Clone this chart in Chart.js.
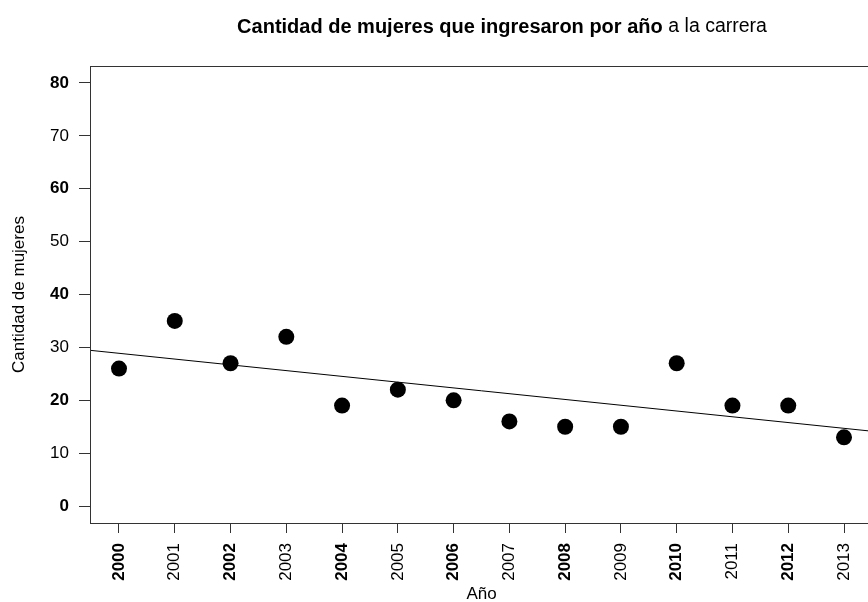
<!DOCTYPE html>
<html>
<head>
<meta charset="utf-8">
<script src="https://cdn.jsdelivr.net/npm/chart.js@4"></script>
<style>
  html, body { margin: 0; padding: 0; background: #fff; overflow: hidden; width: 868px; height: 602px; }
  canvas { display: block; }
</style>
</head>
<body>
<canvas id="c" width="881" height="602"></canvas>
<script>
// ---- data ----
const years = [2000, 2001, 2002, 2003, 2004, 2005, 2006, 2007, 2008, 2009, 2010, 2011, 2012, 2013];
const mujeres = [26, 35, 27, 32, 19, 22, 20, 16, 15, 15, 27, 19, 19, 13];
const yTicks = [0, 10, 20, 30, 40, 50, 60, 70, 80];
// trend line (at the two plot edges)
const trendYears = [1999.48, 2013.52];
const trendValues = [29.45, 14.13];

const titleBold = 'Cantidad de mujeres que ingresaron por año ';
const titleNormal = 'a la carrera';
const xTitle = 'Año';
const yTitle = 'Cantidad de mujeres';

const FONT = "'Liberation Sans', Arial, Helvetica, sans-serif";

const points = years.map((y, i) => ({ x: y, y: mujeres[i] }));
const trend = trendYears.map((y, i) => ({ x: y, y: trendValues[i] }));

const boxPlugin = {
  id: 'box',
  afterDraw(chart) {
    const { ctx, chartArea: a } = chart;
    ctx.save();
    ctx.strokeStyle = '#333';
    ctx.lineWidth = 1;
    ctx.strokeRect(Math.round(a.left) + 0.5, Math.round(a.top) + 0.5,
                   Math.round(a.right - a.left), Math.round(a.bottom - a.top));
    ctx.restore();
  }
};

const titlePlugin = {
  id: 'rtitle',
  afterDraw(chart) {
    const ctx = chart.ctx;
    ctx.save();
    ctx.textBaseline = 'middle';
    ctx.fillStyle = '#000';
    const fb = 'bold 20px ' + FONT;
    const fn = 'normal 19.5px ' + FONT;
    ctx.font = fb; const w1 = ctx.measureText(titleBold).width;
    ctx.font = fn; const w2 = ctx.measureText(titleNormal).width;
    let x = 502 - (w1 + w2) / 2;
    const y = 27;
    ctx.textAlign = 'left';
    ctx.font = fb; ctx.fillText(titleBold, x, y);
    ctx.font = fn; ctx.fillText(titleNormal, x + w1, y);
    ctx.restore();
  }
};

const tickFont = (ctx) => ({ family: FONT, size: 17, weight: (ctx.index % 2 === 0) ? 'bold' : 'normal' });

new Chart(document.getElementById('c'), {
  type: 'scatter',
  data: {
    datasets: [
      {
        data: points,
        backgroundColor: '#000',
        borderColor: '#000',
        pointRadius: 8,
        pointHoverRadius: 8,
        borderWidth: 0
      },
      {
        type: 'line',
        data: trend,
        borderColor: '#000',
        borderWidth: 1,
        pointRadius: 0,
        fill: false
      }
    ]
  },
  options: {
    responsive: false,
    animation: false,
    events: [],
    layout: { padding: { top: 66, right: 1, left: 0, bottom: 0 } },
    plugins: { legend: { display: false }, tooltip: { enabled: false }, title: { display: false } },
    scales: {
      x: {
        type: 'linear',
        min: 1999.48,
        max: 2013.52,
        afterBuildTicks: (s) => { s.ticks = years.map(v => ({ value: v })); },
        afterFit: (s) => { s.height = 79; },
        grid: { display: true, drawOnChartArea: false, drawTicks: true, tickLength: 10, color: '#333' },
        border: { display: false },
        ticks: {
          autoSkip: false,
          minRotation: 90,
          maxRotation: 90,
          padding: 10,
          color: '#000',
          font: tickFont,
          callback: (v) => String(v)
        },
        title: { display: true, text: xTitle, color: '#000', font: { family: FONT, size: 17 }, padding: { top: 0, bottom: -3 } }
      },
      y: {
        type: 'linear',
        min: -3.2,
        max: 83.2,
        afterBuildTicks: (s) => { s.ticks = yTicks.map(v => ({ value: v })); },
        afterFit: (s) => { s.width = 90; },
        grid: { display: true, drawOnChartArea: false, drawTicks: true, tickLength: 11, color: '#333' },
        border: { display: false },
        ticks: {
          padding: 10,
          color: '#000',
          font: tickFont,
          callback: (v) => String(v)
        },
        title: { display: true, text: yTitle, color: '#000', font: { family: FONT, size: 17 }, padding: { top: 9, bottom: 0 } }
      }
    }
  },
  plugins: [boxPlugin, titlePlugin]
});
</script>
</body>
</html>
